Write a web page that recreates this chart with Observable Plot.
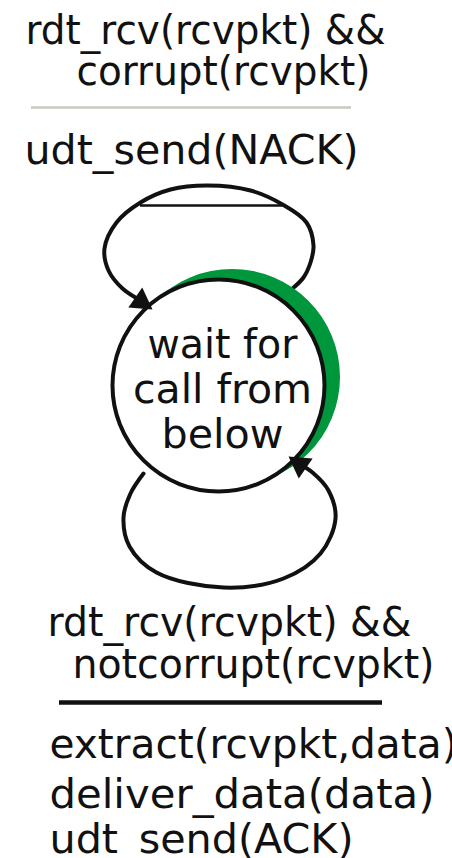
<!DOCTYPE html>
<html>
<head>
<meta charset="utf-8">
<script src="https://cdn.jsdelivr.net/npm/d3@7"></script>
<script src="https://cdn.jsdelivr.net/npm/@observablehq/plot@0.6"></script>
<style>
  html, body { margin: 0; padding: 0; background: #fff; overflow: hidden; }
  #chart svg { display: block; }
</style>
</head>
<body>
<div id="chart"></div>
<script>
// ---------- content (texts of the FSM) ----------
const stateLabel   = ["wait for", "call from", "below"];
const topGuard     = ["rdt_rcv(rcvpkt) &&", "corrupt(rcvpkt)"];
const topAction    = ["udt_send(NACK)"];
const bottomGuard  = ["rdt_rcv(rcvpkt) &&", "notcorrupt(rcvpkt)"];
const bottomAction = ["extract(rcvpkt,data)", "deliver_data(data)", "udt_send(ACK)"];

// ---------- layout (pixel frame of the 452 x 858 picture) ----------
const W = 452, H = 858;
const FONT = "DejaVu Sans";
const FS = 41;
const state = {x: 218, y: 385, r: 106};
const glow  = {dx: 13.5, dy: -8.5, r: 108};              // green crescent
const topGuardPos     = [{x: 25, y: 43, w: 360}, {x: 76, y: 84, w: 294}];
const topActionPos    = [{x: 24, y: 163, w: 334}];
const statePos        = [{x: 222, y: 357, w: 150}, {x: 222, y: 402, w: 179}, {x: 222, y: 447, w: 122}];
const bottomGuardPos  = [{x: 47, y: 635, w: 364}, {x: 72, y: 677, w: 362}];
const bottomActionPos = [{x: 49, y: 757, w: 408}, {x: 49, y: 807, w: 385}, {x: 49, y: 852, w: 304}];
const topRule    = {x1: 31, x2: 351, y: 107};
const topBar     = {x1: 140, x2: 282, y: 205};
const bottomRule = {x1: 59, x2: 382, y: 702};
const topLoop = [
  [292, 288], [303, 277], [310, 262], [313, 245], [306, 222], [282, 204], [250, 190],
  [207, 185], [170, 189], [140, 202], [116, 222], [104, 248], [108, 270], [122, 288], [142, 301]
];
const bottomLoop = [
  [143, 473], [130, 493], [123, 517], [129, 546], [156, 572], [223, 587], [283, 578],
  [320, 553], [335, 518], [328, 490], [312, 472], [298, 463]
];
const arrowHeads = [
  {tx: 152, ty: 309, angle: 35},
  {tx: 288, ty: 456, angle: 215}
];

// ---------- build ----------
const lines = (texts, pos) => texts.map((t, i) => ({text: t, ...pos[i]}));
const leftText = [
  ...lines(topGuard, topGuardPos),
  ...lines(topAction, topActionPos),
  ...lines(bottomGuard, bottomGuardPos),
  ...lines(bottomAction, bottomActionPos)
];
const midText = lines(stateLabel, statePos);

const AR = 9; // arrow head radius (triangle symbol)
const tipDist = 2 * Math.sqrt((Math.PI * AR * AR) / (Math.sqrt(3) * 3));
const heads = arrowHeads.map(a => ({
  x: a.tx - tipDist * Math.cos(a.angle * Math.PI / 180),
  y: a.ty - tipDist * Math.sin(a.angle * Math.PI / 180),
  rot: a.angle + 90
}));

const plot = Plot.plot({
  width: W, height: H,
  margin: 0,
  x: {domain: [0, W], range: [0, W], axis: null},
  y: {domain: [0, H], range: [0, H], axis: null},
  style: {background: "#fff"},
  marks: [
    Plot.line(topLoop, {x: d => d[0], y: d => d[1], curve: "catmull-rom", stroke: "#111", strokeWidth: 4}),
    Plot.line(bottomLoop, {x: d => d[0], y: d => d[1], curve: "catmull-rom", stroke: "#111", strokeWidth: 4}),
    Plot.ruleY([topBar], {y: "y", x1: "x1", x2: "x2", stroke: "#111", strokeWidth: 2.5}),
    Plot.dot([state], {x: d => d.x + glow.dx, y: d => d.y + glow.dy, r: glow.r, fill: "#00963c", stroke: "none"}),
    Plot.dot([state], {x: "x", y: "y", r: state.r, fill: "#fff", stroke: "#111", strokeWidth: 4}),
    Plot.dot(heads, {x: "x", y: "y", r: AR, symbol: "triangle", rotate: "rot", fill: "#111", stroke: "none"}),
    Plot.ruleY([topRule], {y: "y", x1: "x1", x2: "x2", stroke: "#c9c9bd", strokeWidth: 2.5}),
    Plot.ruleY([bottomRule], {y: "y", x1: "x1", x2: "x2", stroke: "#111", strokeWidth: 4.5}),
    Plot.text(leftText, {x: "x", y: "y", text: "text", textAnchor: "start", lineAnchor: "bottom",
      fontSize: FS, fontFamily: FONT, fill: "#111"}),
    Plot.text(midText, {x: "x", y: "y", text: "text", textAnchor: "middle", lineAnchor: "bottom",
      fontSize: FS, fontFamily: FONT, fill: "#111"})
  ]
});

// fit each line of text to the width it occupies in the original
const allText = [...leftText, ...midText];
plot.querySelectorAll("g[aria-label='text'] text").forEach((el, i) => {
  const d = allText[i];
  if (d && d.w) {
    el.setAttribute("textLength", d.w);
    el.setAttribute("lengthAdjust", "spacingAndGlyphs");
  }
});

document.getElementById("chart").appendChild(plot);
</script>
</body>
</html>
